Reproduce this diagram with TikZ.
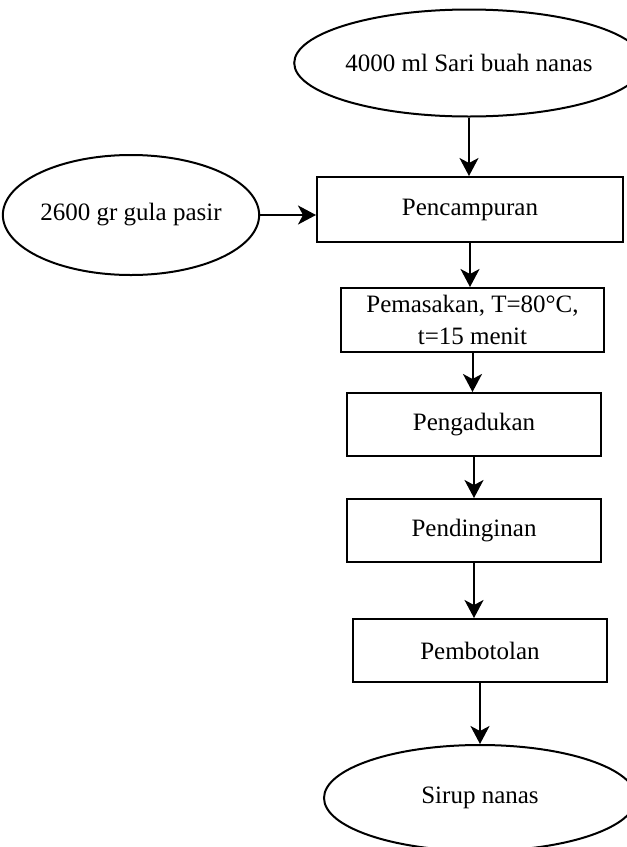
\documentclass[tikz,border=0pt]{standalone}
\usepackage{fontspec}
\setmainfont{Liberation Serif}
\usetikzlibrary{shapes.geometric,arrows.meta}
\tikzset{
  proses/.style={draw,line width=1pt,rectangle,minimum width=127pt,minimum height=31.5pt,align=center,inner sep=1pt,font=\fontsize{12.5}{16}\selectfont},
  bahan/.style={draw,line width=1pt,ellipse,inner sep=0pt,font=\fontsize{12.5}{16}\selectfont},
  alir/.style={line width=1pt,-{Stealth[length=9pt,width=9.5pt,inset=2.5pt]}}
}
\begin{document}
\begin{tikzpicture}[x=0.5pt,y=-0.5pt]
			\useasboundingbox (0,0) rectangle (627,847);
			\node[bahan,minimum width=137pt,minimum height=53.5pt] (sari) at (469,63)	{4000 ml Sari buah nanas};
			\node[bahan,minimum width=116.5pt,minimum height=60pt] (gula) at (131,215)	{2600 gr gula pasir};
			\node[proses,minimum width=153pt,minimum height=32.5pt] (campur) at (470,209.5)	{Pencampuran};
			\node[proses,minimum width=131.5pt,minimum height=32pt] (masak) at (472.5,320)	{Pemasakan, T=80°C,\\ t=15 menit};
			\node[proses] (aduk) at (474,424.5)	{Pengadukan};
			\node[proses] (dingin) at (474,530.5)	{Pendinginan};
			\node[proses] (botol) at (480,650.5)	{Pembotolan};
			\node[bahan,minimum width=156pt,minimum height=53pt] (sirup) at (480,798)	{Sirup nanas};
			%
			\def\list {sari/campur, campur/masak, masak/aduk, aduk/dingin, dingin/botol, botol/sirup}  % list elements
			\foreach \u\v in \list
			{	\draw[alir] (\u.south) -- (\u.south |- \v.north);
			}
			\draw[alir] (gula.east) -- (gula.east -| campur.west);
			%
		\end{tikzpicture}
\end{document}
